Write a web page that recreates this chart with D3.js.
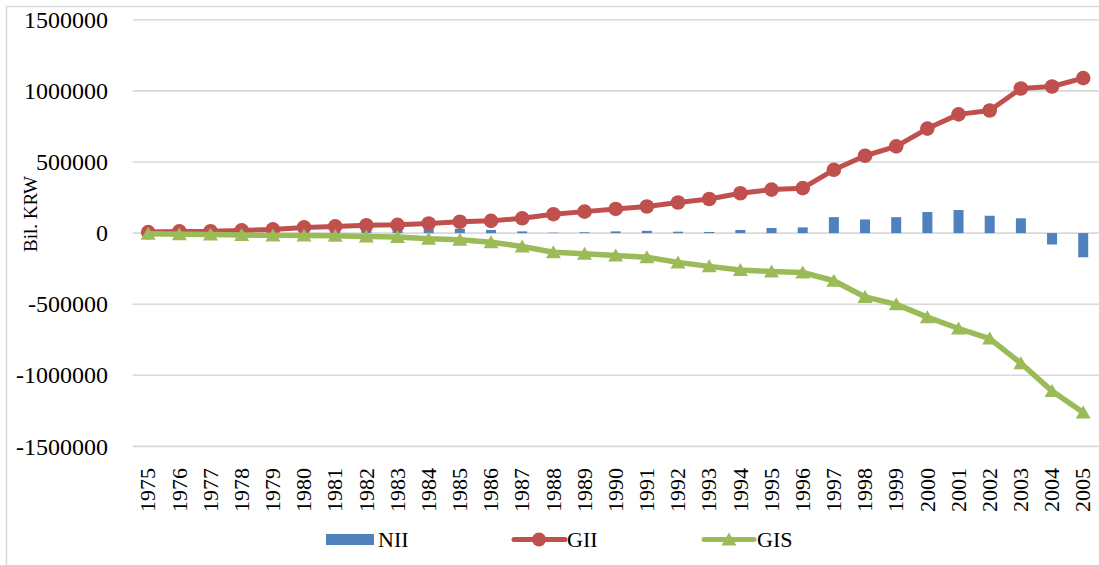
<!DOCTYPE html>
<html>
<head>
<meta charset="utf-8">
<script src="https://cdn.jsdelivr.net/npm/d3@7"></script>
<style>
  html, body { margin: 0; padding: 0; background: #fff; }
  svg { display: block; }
  svg text { font-family: 'Liberation Serif', 'Times New Roman', serif; fill: #000; }
</style>
</head>
<body>
<div id="chart"></div>
<script>
// data
var years = d3.range(1975, 2006).map(String);
var nii = [3000, 4000, 3000, 5000, 10000, 22000, 27000, 30000, 30000, 28000,
  30000, 22000, 12000, 3000, 6000, 12000, 16000, 10000, 8000, 22000,
  36000, 40000, 112000, 96000, 112000, 148000, 162000, 122000, 104000, -80000, -170000];
var gii = [7000, 12000, 13000, 19000, 26000, 40000, 47000, 55000, 58000, 68000,
  80000, 86000, 104000, 133000, 151000, 170000, 187000, 215000, 240000, 280000,
  306000, 316000, 445000, 544000, 610000, 735000, 835000, 862000, 1017000, 1031000, 1090000];
var gis = [-4000, -8000, -10000, -14000, -16000, -17000, -19000, -24000, -28000, -40000,
  -47000, -64000, -94000, -135000, -146000, -158000, -170000, -206000, -234000, -260000,
  -270000, -277000, -335000, -449000, -501000, -591000, -671000, -742000, -915000, -1111000, -1262000];
var yTicks = [1500000, 1000000, 500000, 0, -500000, -1000000, -1500000];

var W = 1099, H = 565;
var colors = { NII: "#4F81BD", GII: "#C0504D", GIS: "#9BBB59" };

var svg = d3.select("#chart").append("svg")
  .attr("width", W).attr("height", H);

// chart border (only left/top show in the crop)
svg.append("rect")
  .attr("x", 6.5).attr("y", 6.5)
  .attr("width", W + 20).attr("height", H + 20)
  .attr("fill", "none").attr("stroke", "#d9d9d9").attr("stroke-width", 1.5);

var x = d3.scaleBand().domain(years).range([132.6, 1098.8]).padding(0);
var y = d3.scaleLinear().domain([-1500000, 1500000]).range([446.4, 19.8]);

// gridlines
svg.append("g").selectAll("line").data(yTicks).join("line")
  .attr("x1", 132.6).attr("x2", 1098.8)
  .attr("y1", d => y(d)).attr("y2", d => y(d))
  .attr("stroke", "#d9d9d9").attr("stroke-width", 1.6);

// y axis labels (plain hyphen like the original)
var yAxis = d3.axisLeft(y).tickValues(yTicks).tickSize(0).tickPadding(0).tickFormat(d => String(d));
var gy = svg.append("g").attr("transform", "translate(108,0)").call(yAxis);
gy.select(".domain").remove();
gy.selectAll("text").style("font-size", "24px");

// y title
svg.append("text")
  .attr("transform", "translate(37,214) rotate(-90)")
  .attr("text-anchor", "middle")
  .attr("font-family", "'Liberation Serif', serif")
  .style("font-size", "19px")
  .text("Bil. KRW");

// x axis labels (rotated years)
var xAxis = d3.axisBottom(x).tickSize(0).tickPadding(0);
var gx = svg.append("g").attr("transform", "translate(0,468)").call(xAxis);
gx.select(".domain").remove();
gx.selectAll("text")
  .style("font-size", "22px")
  .attr("transform", "rotate(-90)")
  .attr("text-anchor", "end")
  .attr("x", 0).attr("y", 0).attr("dy", "0.33em");

// NII bars
var bw = 10;
svg.append("g").selectAll("rect").data(nii).join("rect")
  .attr("x", (d, i) => x(years[i]) + x.bandwidth() / 2 - bw / 2)
  .attr("width", bw)
  .attr("y", d => y(Math.max(0, d)))
  .attr("height", d => Math.abs(y(d) - y(0)))
  .attr("fill", colors.NII);

var cx = (d, i) => x(years[i]) + x.bandwidth() / 2;
var line = d3.line().x(cx).y(d => y(d));

// GII line + circles
svg.append("path").datum(gii)
  .attr("d", line).attr("fill", "none")
  .attr("stroke", colors.GII).attr("stroke-width", 5).attr("stroke-linejoin", "round");
svg.append("g").selectAll("circle").data(gii).join("circle")
  .attr("cx", cx).attr("cy", d => y(d)).attr("r", 7.3)
  .attr("fill", colors.GII);

// GIS line + triangles
var tri = "M0,-7L7.5,6L-7.5,6Z";
svg.append("path").datum(gis)
  .attr("d", line).attr("fill", "none")
  .attr("stroke", colors.GIS).attr("stroke-width", 5.5).attr("stroke-linejoin", "round");
svg.append("g").selectAll("path").data(gis).join("path")
  .attr("d", tri)
  .attr("transform", (d, i) => "translate(" + cx(d, i) + "," + y(d) + ")")
  .attr("fill", colors.GIS);

// legend
var lg = svg.append("g");
var ly = 539.5;
lg.append("rect").attr("x", 326).attr("y", ly - 5.5).attr("width", 48).attr("height", 11).attr("fill", colors.NII);
lg.append("text").attr("x", 378).attr("y", ly).attr("dy", "0.35em").style("font-size", "22px").text("NII");

lg.append("line").attr("x1", 514).attr("x2", 565).attr("y1", ly).attr("y2", ly)
  .attr("stroke", colors.GII).attr("stroke-width", 5).attr("stroke-linecap", "round");
lg.append("circle").attr("cx", 539).attr("cy", ly).attr("r", 7).attr("fill", colors.GII);
lg.append("text").attr("x", 567).attr("y", ly).attr("dy", "0.35em").style("font-size", "22px").text("GII");

lg.append("line").attr("x1", 704).attr("x2", 754).attr("y1", ly).attr("y2", ly)
  .attr("stroke", colors.GIS).attr("stroke-width", 5).attr("stroke-linecap", "round");
lg.append("path").attr("d", tri).attr("transform", "translate(729," + ly + ")").attr("fill", colors.GIS);
lg.append("text").attr("x", 757).attr("y", ly).attr("dy", "0.35em").style("font-size", "22px").text("GIS");
</script>
</body>
</html>
